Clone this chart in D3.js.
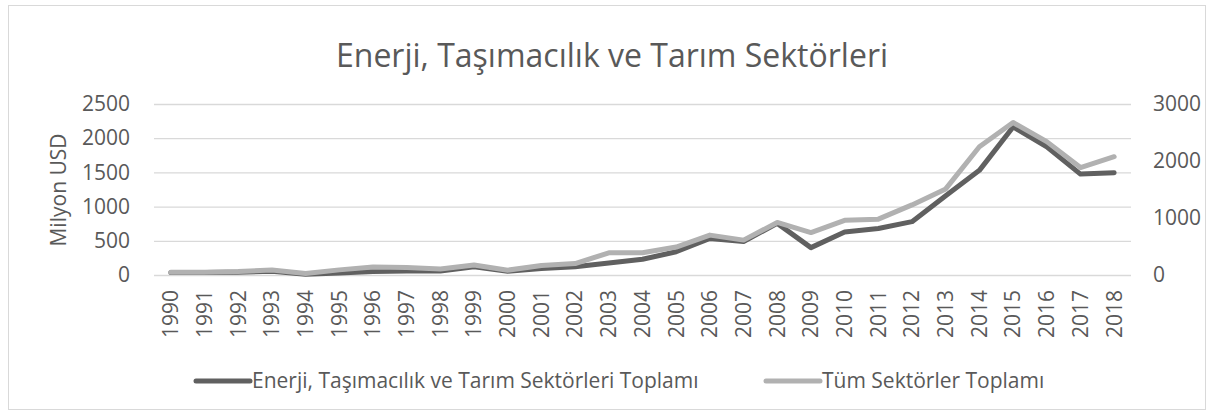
<!DOCTYPE html>
<html>
<head>
<meta charset="utf-8">
<script src="https://cdn.jsdelivr.net/npm/d3@7"></script>
<style>
	html, body { margin: 0; padding: 0; background: #fff; }
	svg { display: block; font-family: 'Open Sans', sans-serif; }
</style>
</head>
<body>
<svg id="chart" width="1214" height="416"></svg>
<script>
const years = d3.range(1990, 2019).map(String);

// Enerji, Taşımacılık ve Tarım Sektörleri Toplamı (left axis)
const sectorTotals = [35, 35, 40, 55, 10, 30, 50, 60, 60, 120,
	55, 95, 120, 175, 230, 340, 535, 490, 755, 400,
	630, 680, 780, 1160, 1530, 2165, 1875, 1475, 1495];

// Tüm Sektörler Toplamı (right axis)
const allTotals = [47, 47, 60, 88, 25, 90, 140, 130, 105, 175,
	85, 165, 200, 390, 390, 490, 700, 612, 922, 745,
	960, 980, 1230, 1510, 2250, 2675, 2340, 1885, 2075];

const leftTicks = [0, 500, 1000, 1500, 2000, 2500];
const rightTicks = [0, 1000, 2000, 3000];

const seriesNames = ['Enerji, Taşımacılık ve Tarım Sektörleri Toplamı', 'Tüm Sektörler Toplamı'];
const title = 'Enerji, Taşımacılık ve Tarım Sektörleri';
const yTitle = 'Milyon USD';

const plot = {left: 154, right: 1131, top: 104, bottom: 275};
const textColor = '#595959';
const colors = ['#606060', '#b1b1b1'];
const fontSize = 21;

const svg = d3.select('#chart');

svg.append('rect')
	.attr('x', 8.5).attr('y', 5.5)
	.attr('width', 1197).attr('height', 404)
	.attr('fill', '#fff')
	.attr('stroke', '#d9d9d9');

const x = d3.scaleBand()
	.domain(years)
	.range([plot.left, plot.right]);
const xc = d => x(d) + x.bandwidth() / 2;

const yLeft = d3.scaleLinear().domain([0, 2500]).range([plot.bottom, plot.top]);
const yRight = d3.scaleLinear().domain([0, 3000]).range([plot.bottom, plot.top]);

const styleText = sel => sel
	.attr('fill', textColor)
	.attr('font-size', fontSize)
	.attr('font-family', "'Open Sans', sans-serif");

// gridlines + left labels
const leftAxis = svg.append('g')
	.attr('transform', `translate(${plot.left},0)`)
	.call(d3.axisLeft(yLeft)
		.tickValues(leftTicks)
		.tickFormat(d3.format('d'))
		.tickSizeInner(-(plot.right - plot.left))
		.tickSizeOuter(0)
		.tickPadding(24));
leftAxis.select('.domain').remove();
leftAxis.selectAll('line').attr('stroke', '#d9d9d9').attr('stroke-width', 1.3);
leftAxis.selectAll('text').call(styleText);

const rightAxis = svg.append('g')
	.attr('transform', `translate(${plot.right},0)`)
	.call(d3.axisRight(yRight)
		.tickValues(rightTicks)
		.tickFormat(d3.format('d'))
		.tickSize(0)
		.tickPadding(22));
rightAxis.select('.domain').remove();
rightAxis.selectAll('text').call(styleText);

// year labels, rotated
const xAxis = svg.append('g')
	.attr('transform', `translate(0,${plot.bottom})`)
	.call(d3.axisBottom(x).tickSize(0).tickPadding(0));
xAxis.select('.domain').remove();
xAxis.selectAll('text')
	.call(styleText)
	.attr('text-anchor', 'end')
	.attr('dy', '0.35em')
	.attr('transform', 'translate(0,15) rotate(-90)')
	.attr('y', 0)
	.attr('x', 0);

svg.append('text')
	.attr('x', 612).attr('y', 67)
	.attr('text-anchor', 'middle')
	.attr('font-size', 32)
	.attr('fill', textColor)
	.text(title);

svg.append('text')
	.attr('transform', 'translate(66,190) rotate(-90)')
	.attr('text-anchor', 'middle')
	.attr('font-size', fontSize)
	.attr('fill', textColor)
	.text(yTitle);

// lines
const lineLeft = d3.line()
	.x((d, i) => xc(years[i]))
	.y(d => yLeft(d));
const lineRight = d3.line()
	.x((d, i) => xc(years[i]))
	.y(d => yRight(d));

svg.append('path')
	.datum(sectorTotals)
	.attr('d', lineLeft)
	.attr('fill', 'none')
	.attr('stroke', colors[0])
	.attr('stroke-width', 5)
	.attr('stroke-linejoin', 'round')
	.attr('stroke-linecap', 'round');

svg.append('path')
	.datum(allTotals)
	.attr('d', lineRight)
	.attr('fill', 'none')
	.attr('stroke', colors[1])
	.attr('stroke-width', 5)
	.attr('stroke-linejoin', 'round')
	.attr('stroke-linecap', 'round');

// legend
const legendItems = [
	{name: seriesNames[0], color: colors[0], x: 196},
	{name: seriesNames[1], color: colors[1], x: 766}
];
const legend = svg.append('g').attr('transform', 'translate(0,381)');
legendItems.forEach(item => {
	legend.append('line')
		.attr('x1', item.x).attr('x2', item.x + 54)
		.attr('y1', 0).attr('y2', 0)
		.attr('stroke', item.color)
		.attr('stroke-width', 5)
		.attr('stroke-linecap', 'round');
	legend.append('text')
		.attr('x', item.x + 56)
		.attr('y', 0)
		.attr('dy', '0.35em')
		.attr('font-size', fontSize)
		.attr('fill', textColor)
		.text(item.name);
});
</script>
</body>
</html>
